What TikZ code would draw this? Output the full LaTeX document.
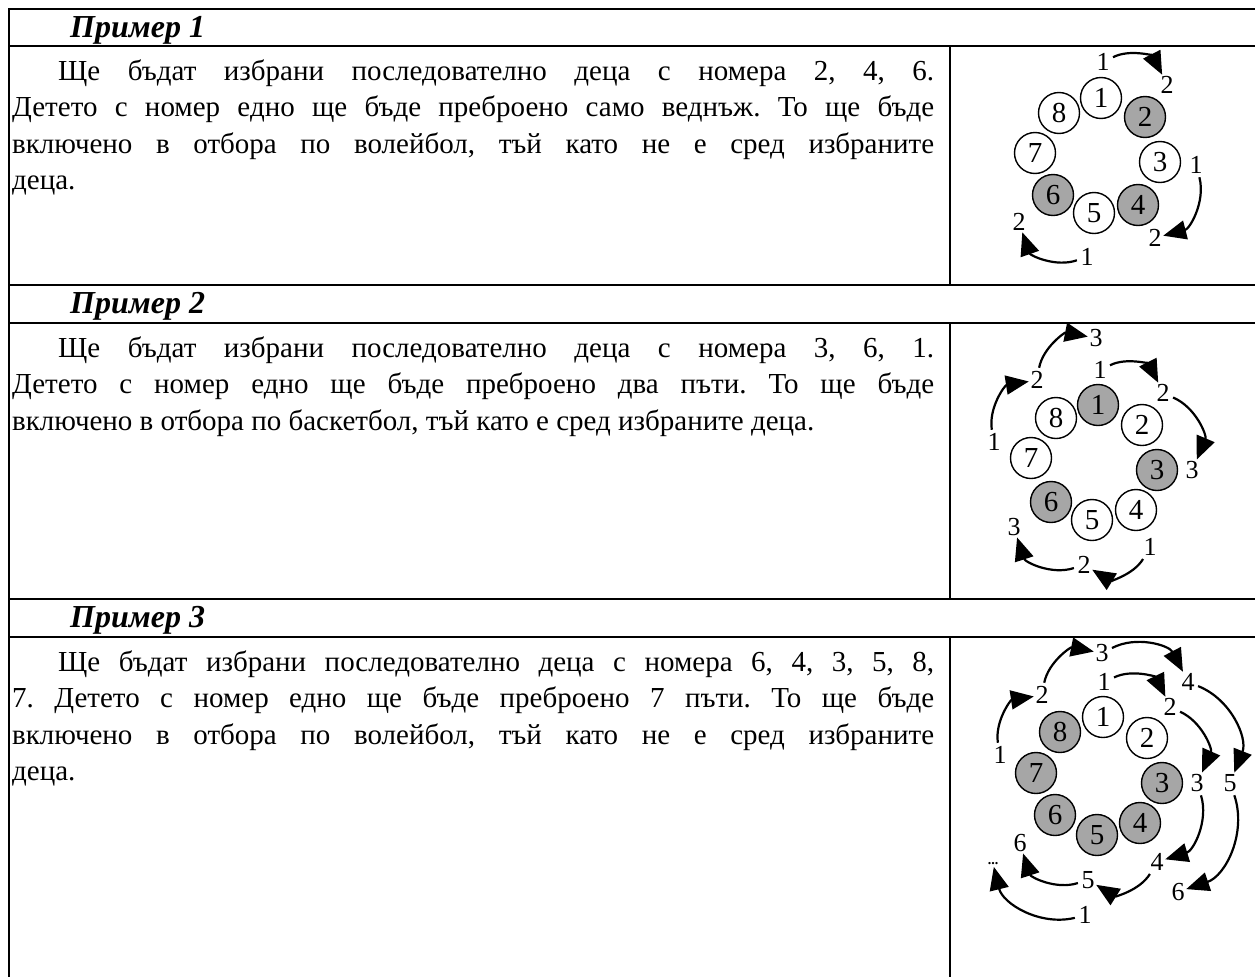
\documentclass[tikz,border=0pt]{standalone}
\usepackage{fontspec}
\setmainfont{Liberation Serif}
\usetikzlibrary{arrows.meta}
\definecolor{kidgray}{RGB}{166,166,166}
\newlength{\indw}
\setlength{\indw}{46pt}
\newcommand{\jline}[1]{\makebox[\linewidth][s]{#1}}
\newcommand{\jfirst}[1]{\hspace*{\indw}\makebox[\dimexpr\linewidth-\indw\relax][s]{#1}}
\frenchspacing
\begin{document}
\begin{tikzpicture}[x=1pt,y=-1pt,
  rule/.style={line width=2pt},
  head/.style={anchor=base west,inner sep=0pt,font=\fontsize{32}{34}\selectfont\bfseries\itshape},
  body/.style={anchor=base west,inner sep=0pt,font=\fontsize{29}{36.5}\selectfont},
  kid/.style={circle,draw,line width=1.4pt,minimum size=41pt,inner sep=0pt,font=\fontsize{29}{29}\selectfont},
  sel/.style={kid,fill=kidgray},
  lab/.style={inner sep=1.5pt,font=\fontsize{26}{26}\selectfont},
  arr/.style={line width=2.2pt,-{Triangle[length=23pt,width=19pt]},bend left=45,shorten >=0pt,shorten <=2pt}]
\useasboundingbox (0,0) rectangle (1255,977);
% table rules
\draw[rule] (1255,9) -- (9,9) -- (9,977);
\draw[rule] (9,46) -- (1255,46);
\draw[rule] (9,285) -- (1255,285);
\draw[rule] (9,323) -- (1255,323);
\draw[rule] (9,599) -- (1255,599);
\draw[rule] (9,637) -- (1255,637);
\draw[rule] (950,46) -- (950,285);
\draw[rule] (950,323) -- (950,599);
\draw[rule] (950,637) -- (950,977);
% headings
\node[head] (h1) at (70,37) {Пример 1};
\node[head] (h2) at (70,313) {Пример 2};
\node[head] (h3) at (70,627) {Пример 3};
% texts
\node[body] (t1) at (12,80) {\parbox[t]{922pt}{%
\jfirst{Ще бъдат избрани последователно деца с номера 2, 4, 6.}\\
\jline{Детето с номер едно ще бъде преброено само веднъж. То ще бъде}\\
\jline{включено в отбора по волейбол, тъй като не е сред избраните}\\
деца.}};
\node[body] (t2) at (12,357) {\parbox[t]{922pt}{%
\jfirst{Ще бъдат избрани последователно деца с номера 3, 6, 1.}\\
\jline{Детето с номер едно ще бъде преброено два пъти. То ще бъде}\\
включено в отбора по баскетбол, тъй като е сред избраните деца.}};
\node[body] (t3) at (12,671) {\parbox[t]{922pt}{%
\jfirst{Ще бъдат избрани последователно деца с номера 6, 4, 3, 5, 8,}\\
\jline{7. Детето с номер едно ще бъде преброено 7 пъти. То ще бъде}\\
\jline{включено в отбора по волейбол, тъй като не е сред избраните}\\
деца.}};
% diagram 1
\node[kid] (p1k1) at (1101,98) {1};
\node[sel] (p1k2) at (1145,117) {2};
\node[kid] (p1k3) at (1160,162) {3};
\node[sel] (p1k4) at (1138,205) {4};
\node[kid] (p1k5) at (1094,213) {5};
\node[sel] (p1k6) at (1053,195) {6};
\node[kid] (p1k7) at (1035,153) {7};
\node[kid] (p1k8) at (1059,113) {8};
\node[lab] (p1a1) at (1103,62) {1};
\node[lab] (p1a2) at (1167,85) {2};
\node[lab] (p1b1) at (1196,165) {1};
\node[lab] (p1b2) at (1155,238) {2};
\node[lab] (p1e1) at (1087,257) {1};
\node[lab] (p1e2) at (1019,222) {2};
\draw[arr] (p1a1) to (p1a2);
\draw[arr] (p1b1) to (p1b2);
\draw[arr] (p1e1) to (p1e2);
% diagram 2
\node[sel] (p2k1) at (1098,405) {1};
\node[kid] (p2k2) at (1142,425) {2};
\node[sel] (p2k3) at (1157,470) {3};
\node[kid] (p2k4) at (1136,510) {4};
\node[kid] (p2k5) at (1092,520) {5};
\node[sel] (p2k6) at (1051,502) {6};
\node[kid] (p2k7) at (1031,458) {7};
\node[kid] (p2k8) at (1056,418) {8};
\node[lab] (p2t3) at (1096,338) {3};
\node[lab] (p2i1) at (1100,370) {1};
\node[lab] (p2i2) at (1163,393) {2};
\node[lab] (p2r3) at (1192,470) {3};
\node[lab] (p2l2) at (1037,380) {2};
\node[lab] (p2l1) at (994,442) {1};
\node[lab] (p2bl3) at (1014,527) {3};
\node[lab] (p2br1) at (1150,547) {1};
\node[lab] (p2b2) at (1084,565) {2};
\draw[arr] (p2l1) to (p2l2);
\draw[arr] (p2l2) to (p2t3);
\draw[arr] (p2i1) to (p2i2);
\draw[arr] (p2i2) to (p2r3);
\draw[arr] (p2br1) to (p2b2);
\draw[arr] (p2b2) to (p2bl3);
% diagram 3
\node[kid] (p3k1) at (1103,717) {1};
\node[kid] (p3k2) at (1147,738) {2};
\node[sel] (p3k3) at (1162,783) {3};
\node[sel] (p3k4) at (1140,823) {4};
\node[sel] (p3k5) at (1097,835) {5};
\node[sel] (p3k6) at (1055,815) {6};
\node[sel] (p3k7) at (1036,773) {7};
\node[sel] (p3k8) at (1060,732) {8};
\node[lab] (p3t3) at (1102,653) {3};
\node[lab] (p3f4) at (1188,682) {4};
\node[lab] (p3i1) at (1104,682) {1};
\node[lab] (p3i2) at (1170,707) {2};
\node[lab] (p3l2) at (1042,695) {2};
\node[lab] (p3l1) at (1000,755) {1};
\node[lab] (p3r3) at (1197,783) {3};
\node[lab] (p3f5) at (1230,783) {5};
\node[lab] (p3l6) at (1020,843) {6};
\node[lab] (p3dots) at (993,864) {\fontsize{14}{14}\selectfont\bfseries...};
\node[lab] (p3b4) at (1157,862) {4};
\node[lab] (p3b5) at (1088,880) {5};
\node[lab] (p3f6) at (1178,892) {6};
\node[lab] (p3o1) at (1085,915) {1};
\draw[arr] (p3l1) to (p3l2);
\draw[arr] (p3l2) to (p3t3);
\draw[arr] (p3t3) to (p3f4);
\draw[arr] (p3f4) to (p3f5);
\draw[arr] (p3f5) to (p3f6);
\draw[arr] (p3i1) to (p3i2);
\draw[arr] (p3i2) to (p3r3);
\draw[arr] (p3r3) to (p3b4);
\draw[arr] (p3b4) to (p3b5);
\draw[arr] (p3b5) to (p3l6);
\draw[arr] (p3o1) to (p3dots);
\end{tikzpicture}
\end{document}
